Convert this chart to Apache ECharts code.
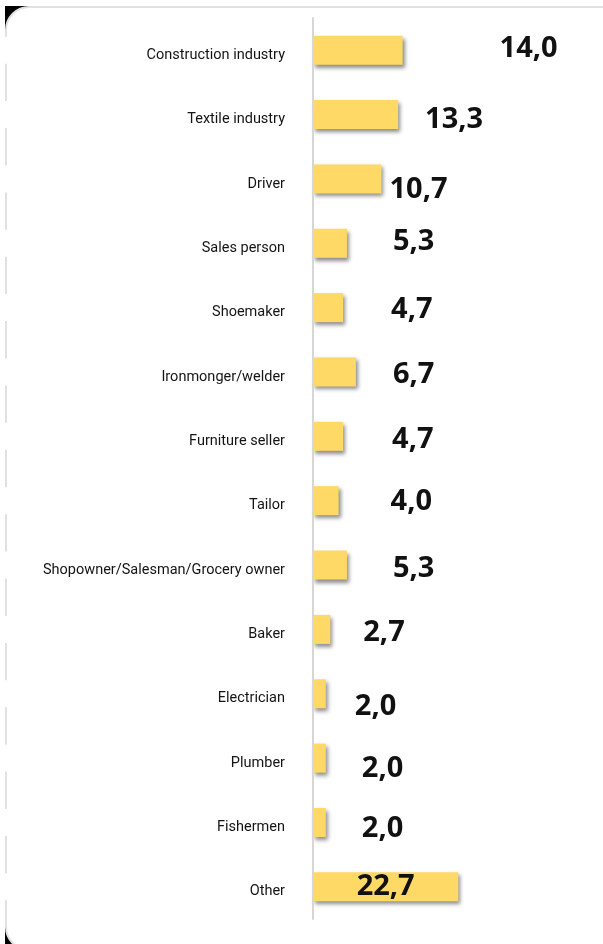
<!DOCTYPE html>
<html>
<head>
<meta charset="utf-8">
<script src="https://cdn.jsdelivr.net/npm/echarts@6/dist/echarts.min.js"></script>
<style>
  html, body { margin: 0; padding: 0; background: #fff; }
  #wrap { position: relative; width: 603px; height: 944px; overflow: hidden; }
  #backing { position: absolute; left: 5px; top: 6px; width: 800px; height: 945px; background: #000; }
  #panel { position: absolute; left: 5px; top: 6px; width: 800px; height: 945px; background: #fff;
           border: 2px solid #e1e1e1; border-radius: 24px; box-sizing: border-box; }
  #chart { position: absolute; left: 0; top: 0; width: 603px; height: 944px; }
</style>
</head>
<body>
<div id="wrap">
  <div id="backing"></div>
  <div id="panel"></div>
  <div id="chart"></div>
</div>
<script>
// Occupations and their shares (%)
const categories = [
  'Construction industry', 'Textile industry', 'Driver', 'Sales person', 'Shoemaker',
  'Ironmonger/welder', 'Furniture seller', 'Tailor', 'Shopowner/Salesman/Grocery owner',
  'Baker', 'Electrician', 'Plumber', 'Fishermen', 'Other'
];
const shares = [14.0, 13.3, 10.7, 5.3, 4.7, 6.7, 4.7, 4.0, 5.3, 2.7, 2.0, 2.0, 2.0, 22.7];

// Per-bar nudges for the value labels [dx, dy]
const labelNudge = [
  [97, -1], [27, 5], [8, 11], [46, -2], [48, 2], [37, 3], [49, 3],
  [52, 1], [46, 4], [33, 3], [29, 13], [36, 11], [36, 6], [0, 0]
];

const fmt = v => v.toFixed(1).replace('.', ',');

const seriesData = shares.map((v, i) => {
  const inside = i === shares.length - 1;
  return {
    value: v,
    label: inside
      ? { position: 'inside', offset: labelNudge[i] }
      : { position: 'right', distance: 0, offset: labelNudge[i] }
  };
});

const chart = echarts.init(document.getElementById('chart'), null, { renderer: 'canvas' });
chart.setOption({
  backgroundColor: 'transparent',
  animation: false,
  grid: { left: 310, right: 2, top: 18, bottom: 25, containLabel: false },
  xAxis: {
    type: 'value', min: 0, max: 45,
    show: false
  },
  yAxis: [
    {
      // visible category axis: line + occupation names
      type: 'category',
      data: categories,
      inverse: true,
      z: 3,
      axisLine: { show: true, lineStyle: { color: '#d6d6d6', width: 2 } },
      axisTick: { show: false },
      splitLine: { show: false },
      axisLabel: {
        margin: 28,
        align: 'right',
        verticalAlign: 'top',
        lineHeight: 10,
        color: '#141414',
        fontFamily: 'Roboto',
        fontSize: 14.5
      }
    },
    {
      // white label plates behind the names, breaking the panel's left edge
      type: 'category',
      data: categories,
      inverse: true,
      position: 'left',
      z: 1,
      axisLine: { show: false },
      axisTick: { show: false },
      splitLine: { show: false },
      axisLabel: {
        margin: 28,
        width: 282,
        align: 'right',
        lineHeight: 27,
        backgroundColor: '#ffffff',
        color: 'rgba(0,0,0,0)',
        fontSize: 14
      }
    }
  ],
  series: [{
    type: 'bar',
    yAxisIndex: 0,
    data: seriesData,
    barWidth: 29,
    itemStyle: {
      color: '#FFD966',
      shadowColor: 'rgba(0,0,0,0.45)',
      shadowBlur: 4,
      shadowOffsetX: 2,
      shadowOffsetY: 3
    },
    label: {
      show: true,
      formatter: p => fmt(p.value),
      fontFamily: 'Open Sans',
      fontWeight: 'bold',
      fontSize: 29,
      color: '#111'
    }
  }]
});
</script>
</body>
</html>
